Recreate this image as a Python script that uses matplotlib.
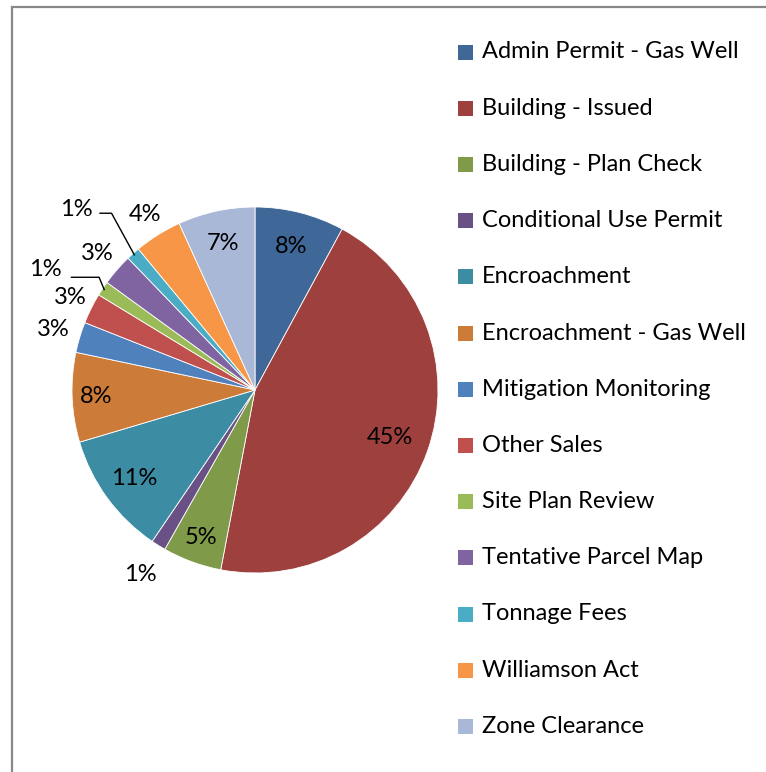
import numpy as np
import matplotlib
matplotlib.use("Agg")
import matplotlib.pyplot as plt
from matplotlib.patches import Rectangle

plt.rcParams['font.family'] = ['Lato', 'DejaVu Sans']

categories = [
    "Admin Permit - Gas Well", "Building - Issued", "Building - Plan Check",
    "Conditional Use Permit", "Encroachment", "Encroachment - Gas Well",
    "Mitigation Monitoring", "Other Sales", "Site Plan Review",
    "Tentative Parcel Map", "Tonnage Fees", "Williamson Act", "Zone Clearance",
]
# share of total
shares = [7.9, 45.1, 5.2, 1.3, 10.9, 7.9, 2.7, 2.7, 1.3, 2.8, 1.2, 4.2, 6.8]
colors = [
    "#3F6797", "#9E413E", "#7F9A48", "#695185", "#3C8DA3", "#CC7B38",
    "#4F81BD", "#C0504D", "#9BBB59", "#8064A2", "#4BACC6", "#F79646", "#A9B8D7",
]
# radial distance of each percent label (1 = pie edge)
label_r = [0.81, 0.78, 0.86, 1.19, 0.82, 0.87, 1.15, 1.13, None, 1.14, None, 1.13, 0.82]

W, H = 766, 772
fig = plt.figure(figsize=(W / 100, H / 100), dpi=100)

# pie centre (255, 390) px, radius 183 px
R = 183
half = 1.35
side = 2 * half * R
cx, cy = 255, 390
ax = fig.add_axes([(cx - side / 2) / W, (H - cy - side / 2) / H, side / W, side / H])

wedges, _ = ax.pie(shares, colors=colors, startangle=90, counterclock=False,
                   radius=1.0, wedgeprops=dict(linewidth=0.6, edgecolor="white"))
ax.set_xlim(-half, half)
ax.set_ylim(-half, half)
ax.set_aspect("equal")
ax.axis("off")

fs = 17
for i, w in enumerate(wedges):
    pct = f"{shares[i] / sum(shares) * 100:.0f}%"
    mid = np.deg2rad((w.theta1 + w.theta2) / 2)
    if label_r[i] is not None:
        ax.text(label_r[i] * np.cos(mid), label_r[i] * np.sin(mid), pct,
                ha="center", va="center", fontsize=fs)
    else:
        # small slices get a leader line
        px, py = 0.99 * np.cos(mid), 0.99 * np.sin(mid)
        if categories[i] == "Site Plan Review":
            tx, ty, x0, x1, ly = -1.148, 0.656, -1.003, -0.852, 0.616
        else:
            tx, ty, x0, x1, ly = -0.978, 0.989, -0.847, -0.784, 0.966
        ax.text(tx, ty, pct, ha="center", va="center", fontsize=fs)
        ax.plot([x0, x1, px], [ly, ly, py], color="black", lw=1.0)

# legend, drawn by hand to match spacing
top_y, step = 52, 56.2
for i, name in enumerate(categories):
    y = top_y + i * step
    fig.patches.append(Rectangle((458 / W, (H - y - 7.5) / H), 15 / W, 15 / H,
                                 transform=fig.transFigure, facecolor=colors[i],
                                 edgecolor="none"))
    fig.text(482 / W, (H - y) / H, name, ha="left", va="center", fontsize=fs)

# chart area border
fig.patches.append(Rectangle((12 / W, -0.1), 1.2, (H - 7) / H + 0.1,
                             transform=fig.transFigure, fill=False,
                             edgecolor="#888888", linewidth=1.6))

fig.savefig("out.png", dpi=100)
